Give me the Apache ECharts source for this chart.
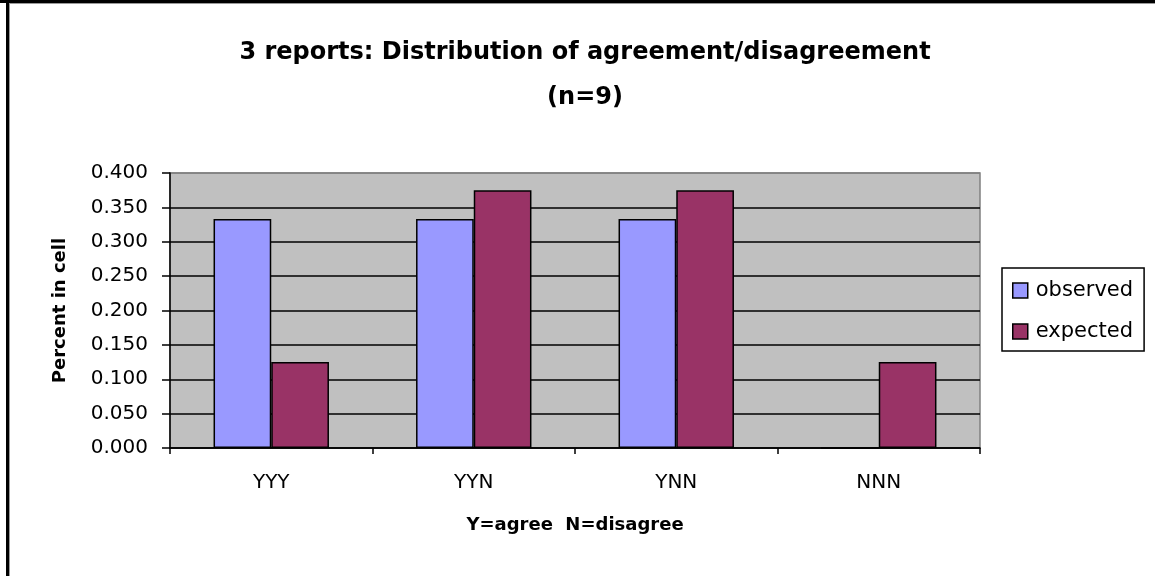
<!DOCTYPE html>
<html>
<head>
<meta charset="utf-8">
<script src="https://cdn.jsdelivr.net/npm/echarts@6/dist/echarts.min.js"></script>
<style>
html,body{margin:0;padding:0;background:#fff;}
#chart{width:1155px;height:576px;}
</style>
</head>
<body>
<div id="chart"></div>
<script>
const categories = ['YYY', 'YYN', 'YNN', 'NNN'];
const observed = [0.333, 0.333, 0.333, 0];
const expected = [0.125, 0.375, 0.375, 0.125];
const yMin = 0, yMax = 0.4, yStep = 0.05;

const FONT = 'DejaVu Sans';
const chart = echarts.init(document.getElementById('chart'));
const splitColors = [];
for (let i = 0; i < 8; i++) splitColors.push('#000000');
splitColors.push('#808080');

chart.setOption({
  animation: false,
  backgroundColor: '#ffffff',
  textStyle: { fontFamily: FONT },
  title: {
    text: '3 reports: Distribution of agreement/disagreement\n(n=9)',
    left: 585,
    top: 30,
    padding: 0,
    textAlign: 'center',
    textStyle: { fontFamily: FONT, fontSize: 24, fontWeight: 'bold', color: '#000', lineHeight: 45 }
  },
  legend: {
    orient: 'vertical',
    left: 1002,
    top: 268,
    padding: [12, 11, 9, 10],
    itemGap: 20,
    itemWidth: 15,
    itemHeight: 15,
    itemStyle: { borderColor: '#000', borderWidth: 1.5 },
    borderColor: '#000',
    borderWidth: 1.5,
    backgroundColor: '#fff',
    icon: 'rect',
    textStyle: { fontFamily: FONT, fontSize: 21, color: '#000', lineHeight: 20, padding: [0, 0, 0, 3] },
    data: ['observed', 'expected']
  },
  grid: {
    left: 170, top: 173, right: 175, bottom: 128,
    show: true, backgroundColor: '#C0C0C0', borderColor: '#808080', borderWidth: 1.5,
    containLabel: false
  },
  xAxis: {
    type: 'category',
    data: categories,
    name: 'Y=agree  N=disagree',
    nameLocation: 'middle',
    nameGap: 68,
    nameTextStyle: { fontFamily: FONT, fontSize: 18, fontWeight: 'bold', color: '#000' },
    axisLine: { lineStyle: { color: '#000', width: 1.5 } },
    axisTick: { show: true, length: 6, lineStyle: { color: '#000', width: 1.5 } },
    axisLabel: { fontFamily: FONT, fontSize: 20, color: '#000', margin: 25 },
    splitLine: { show: false }
  },
  yAxis: {
    type: 'value',
    min: yMin, max: yMax, interval: yStep,
    name: 'Percent in cell',
    nameLocation: 'middle',
    nameRotate: 90,
    nameGap: 101,
    nameTextStyle: { fontFamily: FONT, fontSize: 18, fontWeight: 'bold', color: '#000' },
    axisLine: { show: true, lineStyle: { color: '#000', width: 1.5 } },
    axisTick: { show: true, length: 8, lineStyle: { color: '#000', width: 1.5 } },
    axisLabel: { fontFamily: FONT, fontSize: 20, color: '#000', margin: 22, formatter: v => v.toFixed(3) },
    splitLine: { show: true, lineStyle: { color: splitColors, width: 1.5 } }
  },
  series: [
    {
      name: 'observed', type: 'bar', data: observed,
      barGap: '0%', barCategoryGap: '43%',
      itemStyle: { color: '#9999FF', borderColor: '#000', borderWidth: 1.5 }
    },
    {
      name: 'expected', type: 'bar', data: expected,
      barGap: '0%', barCategoryGap: '43%',
      itemStyle: { color: '#993366', borderColor: '#000', borderWidth: 1.5 }
    }
  ],
  graphic: [
    { type: 'rect', shape: { x: 0, y: 0, width: 1155, height: 3 }, style: { fill: '#000' }, silent: true },
    { type: 'rect', shape: { x: 9, y: 3, width: 1146, height: 1 }, style: { fill: '#9a9a9a' }, silent: true },
    { type: 'rect', shape: { x: 6, y: 0, width: 3, height: 576 }, style: { fill: '#000' }, silent: true },
    { type: 'rect', shape: { x: 9, y: 3, width: 1, height: 573 }, style: { fill: '#9a9a9a' }, silent: true }
  ]
});
</script>
</body>
</html>
